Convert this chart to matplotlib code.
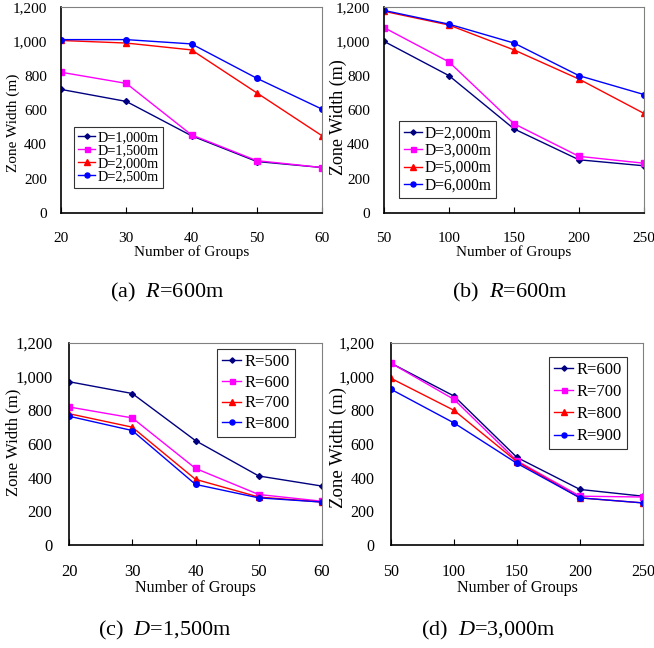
import matplotlib
matplotlib.use('Agg')
import matplotlib.pyplot as plt
from matplotlib.ticker import FuncFormatter

plt.rcParams['font.family'] = ['Liberation Serif', 'DejaVu Serif']
plt.rcParams['mathtext.fontset'] = 'custom'
plt.rcParams['mathtext.rm'] = 'Liberation Serif'
plt.rcParams['mathtext.it'] = 'Liberation Serif:italic'

# data
groups_small = [20, 30, 40, 50, 60]
groups_large = [50, 100, 150, 200, 250]

labels_a = ['D=1,000m', 'D=1,500m', 'D=2,000m', 'D=2,500m']
d1000_a = [720, 650, 450, 300, 265]
d1500_a = [820, 755, 455, 305, 265]
d2000_a = [1005, 990, 950, 700, 450]
d2500_a = [1010, 1010, 985, 785, 605]

labels_b = ['D=2,000m', 'D=3,000m', 'D=5,000m', 'D=6,000m']
d2000_b = [1000, 800, 490, 310, 275]
d3000_b = [1080, 880, 520, 330, 290]
d5000_b = [1175, 1095, 950, 780, 580]
d6000_b = [1180, 1100, 990, 800, 690]

labels_c = ['R=500', 'R=600', 'R=700', 'R=800']
r500_c = [970, 900, 620, 410, 350]
r600_c = [820, 755, 455, 300, 260]
r700_c = [780, 700, 390, 285, 255]
r800_c = [765, 680, 360, 280, 255]

labels_d = ['R=600', 'R=700', 'R=800', 'R=900']
r600_d = [1080, 885, 520, 330, 290]
r700_d = [1080, 865, 500, 290, 285]
r800_d = [990, 800, 495, 280, 250]
r900_d = [925, 725, 485, 280, 250]

captions = [r'(a)  $\it{R}$=600m', r'(b)  $\it{R}$=600m',
            r'(c)  $\it{D}$=1,500m', r'(d)  $\it{D}$=3,000m']

colors = ['#000080', '#FF00FF', '#FF0000', '#0000FF']
markers = ['D', 's', '^', 'o']
msizes = [3, 4, 4.5, 4]

W, H = 654, 648
fig = plt.figure(figsize=(W / 100, H / 100), dpi=100)


def px_axes(left, top, right, bottom):
    return fig.add_axes([left / W, 1 - bottom / H, (right - left) / W, (bottom - top) / H])


def draw(ax, x, series, labels, fs_tick, fs_leg, fs_xlab, fs_ylab, leg_anchor, leg_space,
         xpad, ypad, ylab_xy):
    for s, lab, c, m, ms in zip(series, labels, colors, markers, msizes):
        ax.plot(x, s, color=c, marker=m, markersize=ms, linewidth=1, label=lab)
    ax.set_xlim(x[0], x[-1])
    ax.set_ylim(0, 1200)
    ax.set_xticks(x)
    ax.set_yticks(range(0, 1201, 200))
    ax.yaxis.set_major_formatter(FuncFormatter(lambda v, p: f'{v:,.0f}'))
    ax.tick_params(axis='x', direction='in', length=4, pad=xpad, labelsize=fs_tick)
    ax.tick_params(axis='y', length=0, pad=ypad, labelsize=fs_tick)
    for side in ['left', 'bottom']:
        ax.spines[side].set_color('black')
        ax.spines[side].set_linewidth(1.2)
    for side in ['top', 'right']:
        ax.spines[side].set_color('#808080')
        ax.spines[side].set_linewidth(0.8)
    ax.set_xlabel('Number of Groups', fontsize=fs_xlab, labelpad=0)
    ax.set_ylabel('Zone Width (m)', fontsize=fs_ylab, va='center')
    ax.yaxis.set_label_coords(*ylab_xy)
    leg = ax.legend(loc='upper left', bbox_to_anchor=leg_anchor, borderaxespad=0,
                    fontsize=fs_leg, frameon=True, fancybox=False, edgecolor='black',
                    handlelength=1.15, handletextpad=0.2, labelspacing=leg_space,
                    borderpad=0.3, markerscale=0.9)
    leg.get_frame().set_linewidth(0.8)


ax_a = px_axes(61, 7, 322, 213)
draw(ax_a, groups_small, [d1000_a, d1500_a, d2000_a, d2500_a], labels_a,
     11, 10.3, 11, 11, (0.05, 0.417), 0.0, 14, 10, (-0.184, 0.44))

ax_b = px_axes(384, 7, 644, 213)
draw(ax_b, groups_large, [d2000_b, d3000_b, d5000_b, d6000_b], labels_b,
     11, 11.2, 11, 13, (0.058, 0.447), 0.08, 14, 10, (-0.177, 0.466))

ax_c = px_axes(69, 343, 322, 545)
draw(ax_c, groups_small, [r500_c, r600_c, r700_c, r800_c], labels_c,
     12, 12, 11.5, 12, (0.585, 0.97), 0.28, 14, 12, (-0.221, 0.51))

ax_d = px_axes(391, 343, 643, 545)
draw(ax_d, groups_large, [r600_d, r700_d, r800_d, r900_d], labels_d,
     11.5, 12, 11.5, 13.5, (0.627, 0.931), 0.37, 14, 12, (-0.21, 0.485))

cap_pos = [(167, 292), (510, 292), (165, 630), (488, 630)]
for (cx, cy), cap in zip(cap_pos, captions):
    fig.text(cx / W, 1 - cy / H, cap, fontsize=16, ha='center', va='center')

fig.savefig('out.png', dpi=100)
